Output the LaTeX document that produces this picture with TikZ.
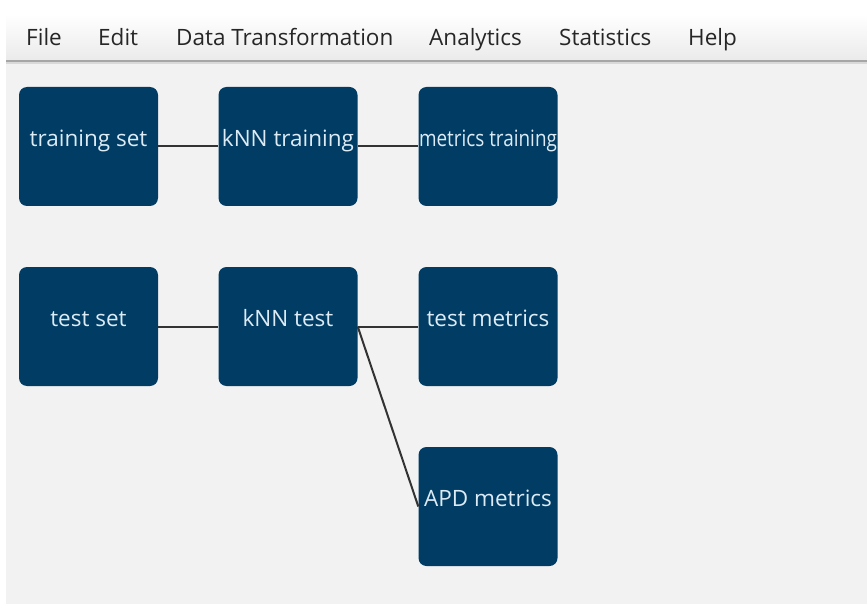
\documentclass[tikz,border=0pt]{standalone}
\usepackage{fontspec}
\usepackage{graphicx}
\setmainfont{Open Sans}
\definecolor{boxblue}{HTML}{003C64}
\definecolor{boxtext}{HTML}{DDEBF5}
\definecolor{panel}{HTML}{F2F2F2}
\begin{document}
\begin{tikzpicture}[x=1pt, y=-1pt,
  every node/.style={font=\fontsize{22.5}{26}\selectfont},
  module/.style={fill=boxblue, text=boxtext, rounded corners=8pt, minimum width=139pt,
    minimum height=119pt, inner sep=0pt, text height=0pt, text depth=0pt},
  link/.style={draw=black!80, line width=2pt}]
  \useasboundingbox (0,0) rectangle (867,604);
  % window and menu bar
  \fill[panel] (6,14) rectangle (867,604);
  \shade[top color=white, bottom color=black!8] (6,14) rectangle (867,60);
  \fill[black!35] (6,60) rectangle (867,62);
  \fill[black!15] (6,62) rectangle (867,64);
  \foreach \k/\m/\x in {file/File/26, edit/Edit/98, data/Data Transformation/176,
      analytics/Analytics/429, stats/Statistics/559, help/Help/688}
    \node[anchor=base west, text=black!85, inner sep=0pt, font=\fontsize{22.5}{26}\selectfont] (menu-\k) at (\x,46) {\m};
  % workflow modules
  \node[module] (trainset) at (88.5,146.5) {training set};
  \node[module] (knntrain) at (288,146.5) {kNN training};
  \node[module] (mtrain)   at (488,146.5) {\scalebox{.84}[1]{metrics training}};
  \node[module] (testset)  at (88.5,326.5) {test set};
  \node[module] (knntest)  at (288,326.5) {kNN test};
  \node[module] (mtest)    at (488,326.5) {test metrics};
  \node[module] (apd)      at (488,506.5) {APD metrics};
  \foreach \a/\b in {trainset/knntrain, knntrain/mtrain, testset/knntest, knntest/mtest, knntest/apd}
    \draw[link] (\a.east) -- (\b.west);
\end{tikzpicture}
\end{document}
